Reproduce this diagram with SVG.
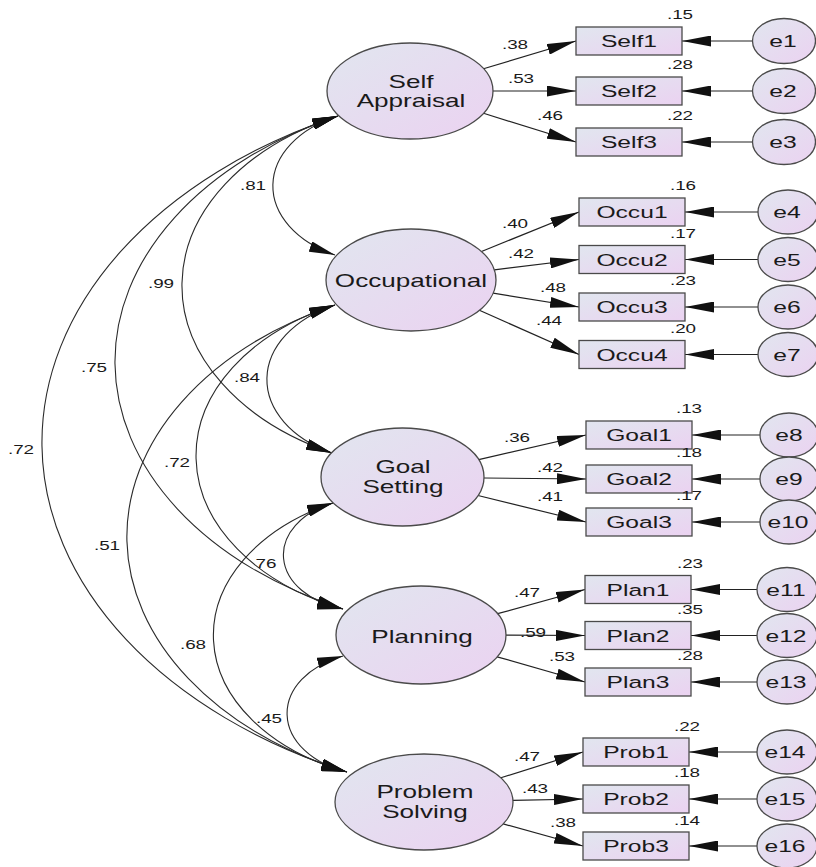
<svg xmlns="http://www.w3.org/2000/svg" width="816" height="867" viewBox="0 0 816 867">
<defs>
<linearGradient id="g" x1="0" y1="0" x2="1" y2="1">
<stop offset="0" stop-color="#e1e6ef"/>
<stop offset="1" stop-color="#ebd2f1"/>
</linearGradient>
<marker id="ah" viewBox="0 0 29 11" refX="29" refY="5.5" markerWidth="29" markerHeight="11" markerUnits="userSpaceOnUse" orient="auto-start-reverse">
<path d="M0,0 L29,5.5 L0,11 z" fill="#111"/>
</marker>
<marker id="ac" viewBox="0 0 26 11" refX="26" refY="5.5" markerWidth="26" markerHeight="11" markerUnits="userSpaceOnUse" orient="auto-start-reverse">
<path d="M0,0 L26,5.5 L0,11 z" fill="#111"/>
</marker>
</defs>
<style>
.nd{fill:url(#g);stroke:#4a4a4a;stroke-width:1.3}
.ln{stroke:#222;stroke-width:1.2;fill:none;marker-end:url(#ah)}
.cv{stroke:#2a2a2a;stroke-width:1.1;fill:none;marker-start:url(#ac);marker-end:url(#ac)}
.t{font-family:"Liberation Sans",Arial,sans-serif;fill:#1a1a1a;text-anchor:middle}
.b{font-size:18px}
.m{font-size:17px}
.s{font-size:13px}
</style>
<rect width="816" height="867" fill="#fff"/>

<g id="connectors">
<path class="cv" d="M338,116 A111.7,77 0 0 0 335,255"/>
<path class="cv" d="M338,116 A271.6,187.3 0 0 0 332,453"/>
<path class="cv" d="M338,116 A396,273.1 0 0 0 343,609"/>
<path class="cv" d="M338,116 A526.7,363.2 0 0 0 347,772"/>
<path class="cv" d="M335,305 A119.8,82.6 0 0 0 332,453"/>
<path class="cv" d="M335,305 A241.4,166.5 0 0 0 343,609"/>
<path class="cv" d="M335,305 A374.8,258.5 0 0 0 347,772"/>
<path class="cv" d="M333,503 A81.6,56.3 0 0 0 343,609"/>
<path class="cv" d="M333,503 A213.7,147.4 0 0 0 347,772"/>
<path class="cv" d="M343,656 A90,62.1 0 0 0 347,772"/>
<path class="ln" d="M483.5,68.7 L576,41"/>
<path class="ln" d="M493,91 L576,91"/>
<path class="ln" d="M483.5,113.3 L576,142"/>
<path class="ln" d="M481.5,251.5 L579,212"/>
<path class="ln" d="M494.3,269.8 L579,259.5"/>
<path class="ln" d="M493.1,293.2 L579,307"/>
<path class="ln" d="M479.4,310.3 L579,354.5"/>
<path class="ln" d="M478.7,459.6 L586,435"/>
<path class="ln" d="M484,478 L586,479"/>
<path class="ln" d="M478,495.5 L586,522"/>
<path class="ln" d="M497.6,613.7 L585,589.5"/>
<path class="ln" d="M506,635.2 L585,635.5"/>
<path class="ln" d="M497.1,656.8 L585,682"/>
<path class="ln" d="M500.9,777.8 L583,752"/>
<path class="ln" d="M513,800.3 L583,799"/>
<path class="ln" d="M503.2,823.9 L583,846"/>
<path class="ln" d="M752.5,41 L682,41"/>
<path class="ln" d="M752.5,91 L682,91"/>
<path class="ln" d="M752.5,142 L682,142"/>
<path class="ln" d="M758,212 L685,212"/>
<path class="ln" d="M758,259.5 L685,259.5"/>
<path class="ln" d="M758,307 L685,307"/>
<path class="ln" d="M758,354.5 L685,354.5"/>
<path class="ln" d="M760,435 L692,435"/>
<path class="ln" d="M760,479 L692,479"/>
<path class="ln" d="M760,522 L692,522"/>
<path class="ln" d="M757,589.5 L691,589.5"/>
<path class="ln" d="M757,635.5 L691,635.5"/>
<path class="ln" d="M757,682 L691,682"/>
<path class="ln" d="M757,752 L689,752"/>
<path class="ln" d="M757,799 L689,799"/>
<path class="ln" d="M757,846 L689,846"/>
<g class="t s">
<text transform="translate(253,190) scale(1.45,1)">.81</text>
<text transform="translate(161,288) scale(1.45,1)">.99</text>
<text transform="translate(94,372) scale(1.45,1)">.75</text>
<text transform="translate(21,454) scale(1.45,1)">.72</text>
<text transform="translate(247,382) scale(1.45,1)">.84</text>
<text transform="translate(177,467) scale(1.45,1)">.72</text>
<text transform="translate(107,550) scale(1.45,1)">.51</text>
<text transform="translate(266,568) scale(1.45,1)">76</text>
<text transform="translate(193,649) scale(1.45,1)">.68</text>
<text transform="translate(269,723) scale(1.45,1)">.45</text>
<text transform="translate(515,49) scale(1.45,1)">.38</text>
<text transform="translate(521,83) scale(1.45,1)">.53</text>
<text transform="translate(550,120) scale(1.45,1)">.46</text>
<text transform="translate(515,228) scale(1.45,1)">.40</text>
<text transform="translate(521,258) scale(1.45,1)">.42</text>
<text transform="translate(553,292) scale(1.45,1)">.48</text>
<text transform="translate(549,325) scale(1.45,1)">.44</text>
<text transform="translate(517,442) scale(1.45,1)">.36</text>
<text transform="translate(550,472) scale(1.45,1)">.42</text>
<text transform="translate(550,501) scale(1.45,1)">.41</text>
<text transform="translate(527,597) scale(1.45,1)">.47</text>
<text transform="translate(533,637) scale(1.45,1)">.59</text>
<text transform="translate(562,661) scale(1.45,1)">.53</text>
<text transform="translate(527,761) scale(1.45,1)">.47</text>
<text transform="translate(535,793) scale(1.45,1)">.43</text>
<text transform="translate(563,827) scale(1.45,1)">.38</text>
</g>
</g>

<g id="SelfAppraisal"><ellipse class="nd" cx="410" cy="91" rx="83" ry="48"/><text class="t b" transform="translate(411,0) scale(1.45,1)"><tspan x="0" y="88">Self</tspan><tspan x="0" y="107">Appraisal</tspan></text></g>
<g id="Occupational"><ellipse class="nd" cx="411" cy="280" rx="85" ry="51"/><text class="t b" transform="translate(411,287) scale(1.45,1)">Occupational</text></g>
<g id="GoalSetting"><ellipse class="nd" cx="402.5" cy="477" rx="81.5" ry="49"/><text class="t b" transform="translate(403,0) scale(1.45,1)"><tspan x="0" y="473">Goal</tspan><tspan x="0" y="493">Setting</tspan></text></g>
<g id="Planning"><ellipse class="nd" cx="421" cy="635" rx="85" ry="49"/><text class="t b" transform="translate(422,643) scale(1.45,1)">Planning</text></g>
<g id="ProblemSolving"><ellipse class="nd" cx="424" cy="802" rx="89" ry="48"/><text class="t b" transform="translate(425,0) scale(1.45,1)"><tspan x="0" y="798">Problem</tspan><tspan x="0" y="818">Solving</tspan></text></g>

<g id="Self1"><rect class="nd" x="576" y="27" width="106" height="28"/><text class="t m" transform="translate(629,47) scale(1.45,1)">Self1</text><text class="t s" transform="translate(680,19) scale(1.45,1)">.15</text></g>
<g id="Self2"><rect class="nd" x="576" y="77" width="106" height="28"/><text class="t m" transform="translate(629,97) scale(1.45,1)">Self2</text><text class="t s" transform="translate(680,69) scale(1.45,1)">.28</text></g>
<g id="Self3"><rect class="nd" x="576" y="128" width="106" height="28"/><text class="t m" transform="translate(629,148) scale(1.45,1)">Self3</text><text class="t s" transform="translate(680,120) scale(1.45,1)">.22</text></g>
<g id="Occu1"><rect class="nd" x="579" y="198" width="106" height="28"/><text class="t m" transform="translate(632,218) scale(1.45,1)">Occu1</text><text class="t s" transform="translate(683,190) scale(1.45,1)">.16</text></g>
<g id="Occu2"><rect class="nd" x="579" y="245.5" width="106" height="28"/><text class="t m" transform="translate(632,265.5) scale(1.45,1)">Occu2</text><text class="t s" transform="translate(683,237.5) scale(1.45,1)">.17</text></g>
<g id="Occu3"><rect class="nd" x="579" y="293" width="106" height="28"/><text class="t m" transform="translate(632,313) scale(1.45,1)">Occu3</text><text class="t s" transform="translate(683,285) scale(1.45,1)">.23</text></g>
<g id="Occu4"><rect class="nd" x="579" y="340.5" width="106" height="28"/><text class="t m" transform="translate(632,360.5) scale(1.45,1)">Occu4</text><text class="t s" transform="translate(683,332.5) scale(1.45,1)">.20</text></g>
<g id="Goal1"><rect class="nd" x="586" y="421" width="106" height="28"/><text class="t m" transform="translate(639,441) scale(1.45,1)">Goal1</text><text class="t s" transform="translate(689,413) scale(1.45,1)">.13</text></g>
<g id="Goal2"><rect class="nd" x="586" y="465" width="106" height="28"/><text class="t m" transform="translate(639,485) scale(1.45,1)">Goal2</text><text class="t s" transform="translate(689,457) scale(1.45,1)">.18</text></g>
<g id="Goal3"><rect class="nd" x="586" y="508" width="106" height="28"/><text class="t m" transform="translate(639,528) scale(1.45,1)">Goal3</text><text class="t s" transform="translate(689,500) scale(1.45,1)">.17</text></g>
<g id="Plan1"><rect class="nd" x="585" y="575.5" width="106" height="28"/><text class="t m" transform="translate(638,595.5) scale(1.45,1)">Plan1</text><text class="t s" transform="translate(690,567.5) scale(1.45,1)">.23</text></g>
<g id="Plan2"><rect class="nd" x="585" y="621.5" width="106" height="28"/><text class="t m" transform="translate(638,641.5) scale(1.45,1)">Plan2</text><text class="t s" transform="translate(690,614) scale(1.45,1)">.35</text></g>
<g id="Plan3"><rect class="nd" x="585" y="668" width="106" height="28"/><text class="t m" transform="translate(638,688) scale(1.45,1)">Plan3</text><text class="t s" transform="translate(690,660) scale(1.45,1)">.28</text></g>
<g id="Prob1"><rect class="nd" x="583" y="738" width="106" height="28"/><text class="t m" transform="translate(636,758) scale(1.45,1)">Prob1</text><text class="t s" transform="translate(687,731) scale(1.45,1)">.22</text></g>
<g id="Prob2"><rect class="nd" x="583" y="785" width="106" height="28"/><text class="t m" transform="translate(636,805) scale(1.45,1)">Prob2</text><text class="t s" transform="translate(687,777) scale(1.45,1)">.18</text></g>
<g id="Prob3"><rect class="nd" x="583" y="832" width="106" height="28"/><text class="t m" transform="translate(636,852) scale(1.45,1)">Prob3</text><text class="t s" transform="translate(687,825) scale(1.45,1)">.14</text></g>

<g id="e1"><ellipse class="nd" cx="784" cy="41" rx="31.5" ry="22.5"/><text class="t m" transform="translate(783,47) scale(1.45,1)">e1</text></g>
<g id="e2"><ellipse class="nd" cx="784" cy="91" rx="31.5" ry="22.5"/><text class="t m" transform="translate(783,97) scale(1.45,1)">e2</text></g>
<g id="e3"><ellipse class="nd" cx="784" cy="142" rx="31.5" ry="22.5"/><text class="t m" transform="translate(783,148) scale(1.45,1)">e3</text></g>
<g id="e4"><ellipse class="nd" cx="788" cy="212" rx="30" ry="22"/><text class="t m" transform="translate(787,218) scale(1.45,1)">e4</text></g>
<g id="e5"><ellipse class="nd" cx="788" cy="259.5" rx="30" ry="22"/><text class="t m" transform="translate(787,265.5) scale(1.45,1)">e5</text></g>
<g id="e6"><ellipse class="nd" cx="788" cy="307" rx="30" ry="22"/><text class="t m" transform="translate(787,313) scale(1.45,1)">e6</text></g>
<g id="e7"><ellipse class="nd" cx="788" cy="354.5" rx="30" ry="22"/><text class="t m" transform="translate(787,360.5) scale(1.45,1)">e7</text></g>
<g id="e8"><ellipse class="nd" cx="789" cy="435" rx="29" ry="22"/><text class="t m" transform="translate(789,441) scale(1.45,1)">e8</text></g>
<g id="e9"><ellipse class="nd" cx="789" cy="479" rx="29" ry="22"/><text class="t m" transform="translate(789,485) scale(1.45,1)">e9</text></g>
<g id="e10"><ellipse class="nd" cx="789" cy="522" rx="29" ry="22"/><text class="t m" transform="translate(788,528) scale(1.45,1)">e10</text></g>
<g id="e11"><ellipse class="nd" cx="787" cy="589.5" rx="30" ry="22"/><text class="t m" transform="translate(786,595.5) scale(1.45,1)">e11</text></g>
<g id="e12"><ellipse class="nd" cx="787" cy="635.5" rx="30" ry="22"/><text class="t m" transform="translate(786,641.5) scale(1.45,1)">e12</text></g>
<g id="e13"><ellipse class="nd" cx="787" cy="682" rx="30" ry="22"/><text class="t m" transform="translate(786,688) scale(1.45,1)">e13</text></g>
<g id="e14"><ellipse class="nd" cx="787" cy="752" rx="30" ry="22"/><text class="t m" transform="translate(785,758) scale(1.45,1)">e14</text></g>
<g id="e15"><ellipse class="nd" cx="787" cy="799" rx="30" ry="22"/><text class="t m" transform="translate(785,805) scale(1.45,1)">e15</text></g>
<g id="e16"><ellipse class="nd" cx="787" cy="846" rx="30" ry="22"/><text class="t m" transform="translate(785,852) scale(1.45,1)">e16</text></g>
</svg>
